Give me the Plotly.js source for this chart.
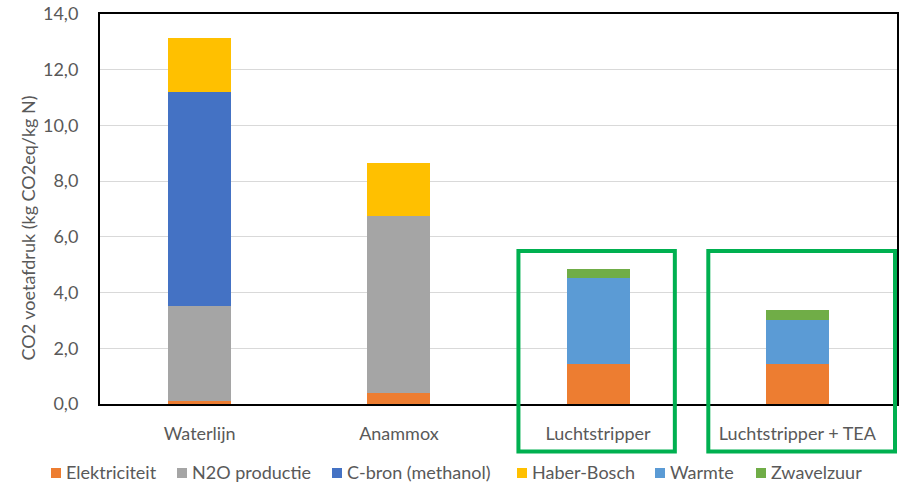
<!DOCTYPE html>
<html>
<head>
<meta charset="utf-8">
<script src="https://cdn.plot.ly/plotly-3.0.1.min.js"></script>
<style>
  html, body { margin: 0; padding: 0; background: #ffffff; }
  #chart { width: 901px; height: 484px; }
</style>
</head>
<body>
<div id="chart"></div>
<script>
// Zuiveringsroutes (categorieën op de x-as)
const routes = ['Waterlijn', 'Anammox', 'Luchtstripper', 'Luchtstripper + TEA'];

// CO2-voetafdruk per bron, kg CO2eq/kg N
const elektriciteit = [0.10, 0.38, 1.45, 1.45];
const n2oProductie  = [3.43, 6.36, null, null];
const cBron         = [7.68, null, null, null];
const haberBosch    = [1.92, 1.92, null, null];
const warmte        = [null, null, 3.07, 1.57];
const zwavelzuur    = [null, null, 0.34, 0.35];

// Y-as ticks
const yTicks = [0, 2, 4, 6, 8, 10, 12, 14];

const series = [
  { name: 'Elektriciteit',      y: elektriciteit, color: '#ED7D31' },
  { name: 'N2O productie',      y: n2oProductie,  color: '#A5A5A5' },
  { name: 'C-bron (methanol)',  y: cBron,         color: '#4472C4' },
  { name: 'Haber-Bosch',        y: haberBosch,    color: '#FFC000' },
  { name: 'Warmte',             y: warmte,        color: '#5B9BD5' },
  { name: 'Zwavelzuur',         y: zwavelzuur,    color: '#70AD47' }
];

const traces = series.map(s => ({
  type: 'bar',
  name: s.name,
  x: routes,
  y: s.y,
  width: 0.316,
  marker: { color: s.color, line: { width: 0 } },
  hoverinfo: 'name+y',
  showlegend: false
}));

const font = 'Lato, "Open Sans", sans-serif';
const grey = '#595959';

// Plotgebied in pixels
const W = 901, H = 484;
const M = { l: 100, r: 4, t: 14, b: 80 };
const plotW = W - M.l - M.r, plotH = H - M.t - M.b;
const px = v => (v - M.l) / plotW;          // pixel-x -> paper-x
const py = v => (H - M.b - v) / plotH;      // pixel-y -> paper-y

// Groene kaders rond de luchtstripper-varianten
const boxStyle = { color: '#00B050', width: 4 };
const shapes = [
  { type: 'rect', xref: 'x', yref: 'paper', x0: 1.6, x1: 2.385, y0: py(451.5), y1: py(251),
    line: boxStyle, fillcolor: 'rgba(0,0,0,0)', layer: 'above' },
  { type: 'rect', xref: 'x', yref: 'paper', x0: 2.553, x1: 3.49, y0: py(451.5), y1: py(251),
    line: boxStyle, fillcolor: 'rgba(0,0,0,0)', layer: 'above' }
];

// Titel van de y-as, iets onder het midden van de as geplaatst
const annotations = [
  { text: 'CO2 voetafdruk (kg CO2eq/kg N)', xref: 'paper', yref: 'paper',
    x: px(27.5), y: py(228), xanchor: 'center', yanchor: 'middle', textangle: -90,
    showarrow: false, font: { family: font, size: 18, color: grey } }
];

// Legenda onder de grafiek: kleurvlakje + naam per reeks, op één regel
const legendLeft = [51, 177, 332, 517, 655, 756];
const legendMid = 472;
series.forEach((s, i) => {
  const x0 = legendLeft[i];
  shapes.push({
    type: 'rect', xref: 'paper', yref: 'paper',
    x0: px(x0), x1: px(x0 + 10), y0: py(legendMid + 6), y1: py(legendMid - 4),
    line: { width: 0 }, fillcolor: s.color
  });
  annotations.push({
    text: s.name, xref: 'paper', yref: 'paper',
    x: px(x0 + 14), y: py(legendMid), xanchor: 'left', yanchor: 'middle',
    showarrow: false, borderpad: 0, font: { family: font, size: 18, color: grey }
  });
});

const layout = {
  width: W,
  height: H,
  margin: Object.assign({ autoexpand: false }, M),
  paper_bgcolor: '#ffffff',
  plot_bgcolor: '#ffffff',
  barmode: 'stack',
  separators: ',.',
  font: { family: font, color: grey, size: 18 },
  showlegend: false,
  xaxis: {
    type: 'category',
    range: [-0.5, 3.5],
    showgrid: false,
    showline: true,
    linecolor: '#000000',
    linewidth: 2,
    mirror: true,
    ticks: '',
    ticklabelstandoff: 12,
    tickfont: { family: font, size: 18, color: grey },
    zeroline: false
  },
  yaxis: {
    range: [0, 14],
    tickvals: yTicks,
    tickformat: '.1f',
    showgrid: true,
    gridcolor: '#D9D9D9',
    gridwidth: 1,
    showline: true,
    linecolor: '#000000',
    linewidth: 2,
    mirror: true,
    ticks: '',
    ticklabelstandoff: 16,
    tickfont: { family: font, size: 18, color: grey },
    zeroline: false
  },
  annotations: annotations,
  shapes: shapes
};

Plotly.newPlot('chart', traces, layout, { displayModeBar: false, staticPlot: true });
</script>
</body>
</html>
